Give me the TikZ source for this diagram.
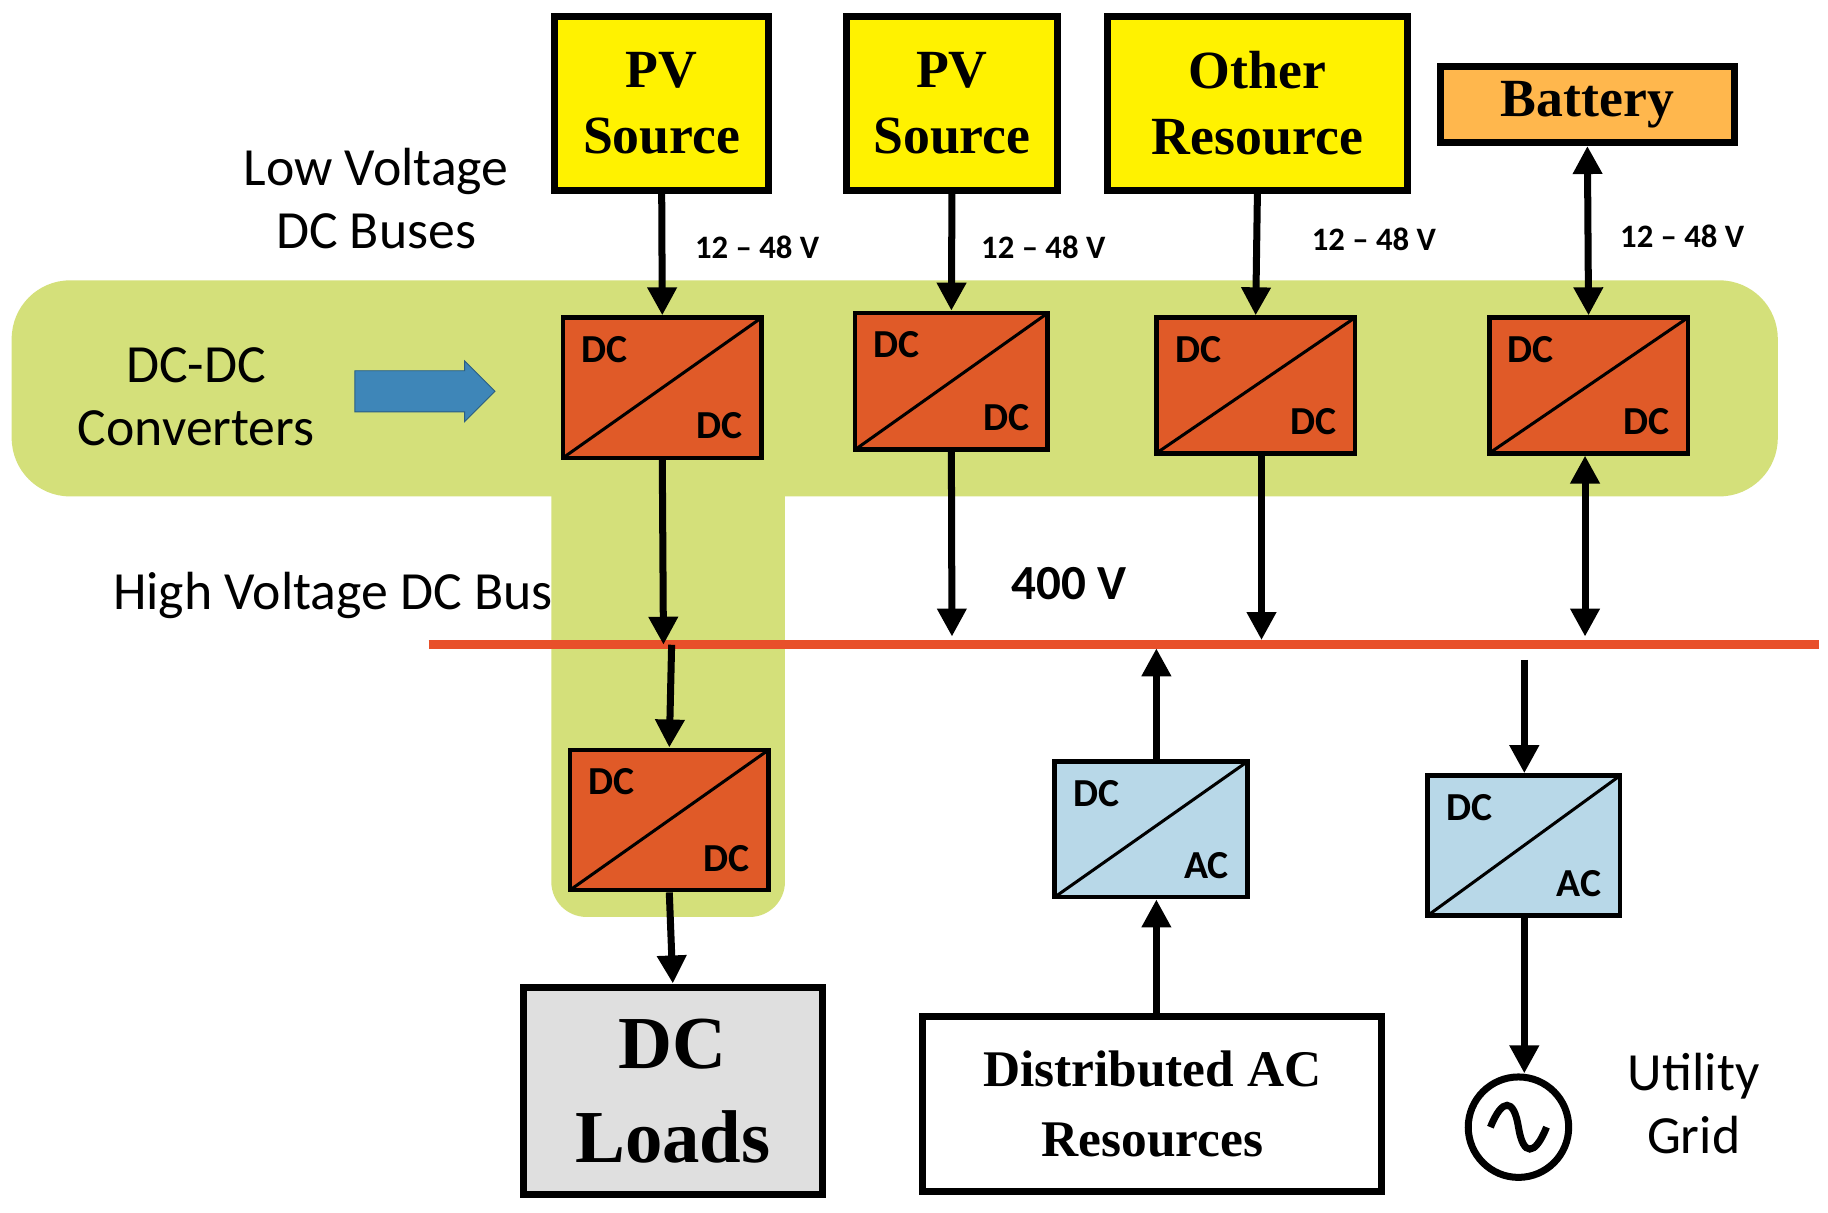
\documentclass[tikz,border=0pt]{standalone}
\usepackage{fontspec}
\setmainfont{Carlito}
\newfontfamily\serifb{Liberation Serif}
\usetikzlibrary{arrows.meta,shapes.arrows}
\definecolor{ygreen}{HTML}{D4E07A}
\definecolor{conv}{HTML}{E05A28}
\definecolor{inv}{HTML}{B8D8E8}
\definecolor{bat}{HTML}{FFB74D}
\definecolor{busred}{HTML}{E8502A}
\definecolor{barrow}{HTML}{3E86B8}
\begin{document}
\begin{tikzpicture}[x=0.5pt,y=-0.5pt,
  sz/.style 2 args={minimum width=#1*0.5pt,minimum height=#2*0.5pt},
  src/.style={draw=black,line width=3pt,fill=yellow,font=\serifb\bfseries\fontsize{23}{26}\selectfont,align=center,inner sep=0},
  cv/.style n args={3}{draw=black,line width=2pt,fill=#1,inner sep=0,
    path picture={\draw[line width=1.3pt] (path picture bounding box.south west)--(path picture bounding box.north east);
      \node[anchor=north west,minimum width=0pt,minimum height=0pt,font=\bfseries\fontsize{17}{20}\selectfont,inner sep=7pt] at (path picture bounding box.north west){#2};
      \node[anchor=south east,minimum width=0pt,minimum height=0pt,font=\bfseries\fontsize{17}{20}\selectfont,inner sep=7pt] at (path picture bounding box.south east){#3};}},
  ar/.style={line width=3pt,-{Triangle[length=12pt,width=12pt]}},
  dar/.style={line width=3pt,{Triangle[length=12pt,width=12pt]}-{Triangle[length=12pt,width=12pt]}},
  lbl/.style={font=\fontsize{23}{27}\selectfont,align=center},
  vl/.style={font=\bfseries\fontsize{14}{16}\selectfont,anchor=west}]
\useasboundingbox (0,0) rectangle (1565,1038);
\fill[white] (0,0) rectangle (1565,1038);
% green band
\fill[ygreen,rounded corners=25pt] (10,240) rectangle (1522,425);
\fill[ygreen,rounded corners=15pt] (472,380) rectangle (672,785);
% sources
\node[src,sz={183}{149}] (pv1) at (566.5,88.5) {PV\\[2pt]Source};
\node[src,sz={180}{149}] (pv2) at (815,88.5) {PV\\[2pt]Source};
\node[src,sz={257}{149}] (oth) at (1076.5,88.5) {Other\\[2pt]Resource};
\node[src,fill=bat,sz={252}{65}] (bat) at (1359,89.5) {Battery};
% converters
\node[cv={conv}{DC}{DC},sz={170}{120}] (c1) at (567,332) {};
\node[cv={conv}{DC}{DC},sz={165}{117}] (c2) at (814.5,326.5) {};
\node[cv={conv}{DC}{DC},sz={170}{116}] (c3) at (1075,330) {};
\node[cv={conv}{DC}{DC},sz={170}{116}] (c4) at (1360,330) {};
\node[cv={conv}{DC}{DC},sz={170}{120}] (c5) at (573,702) {};
\node[cv={inv}{DC}{AC},sz={165}{116}] (i1) at (985.5,710) {};
\node[cv={inv}{DC}{AC},sz={165}{120}] (i2) at (1304.5,724) {};
% loads
\node[draw=black,line width=3pt,fill=gray!25,sz={256}{178},inner sep=0,font=\serifb\bfseries\fontsize{32}{40}\selectfont,align=center] (load) at (576,934) {DC\\Loads};
\node[draw=black,line width=3pt,fill=white,sz={393}{150},inner sep=0,font=\serifb\bfseries\fontsize{22}{30}\selectfont,align=center] (dac) at (986.5,945) {Distributed AC\\Resources};
\node[draw=black,line width=3pt,circle,minimum size=43pt,inner sep=0] (grid) at (1300,965) {};
\draw[line width=3pt] (1276,965) .. controls (1286,940) and (1296,940) .. (1300,965) .. controls (1304,990) and (1314,990) .. (1324,965);
% bus
\draw[busred,line width=4pt] (367,552) -- (1557,552);
\coordinate (b1) at (568,552); \coordinate (b1d) at (575,552);
\coordinate (b2) at (815,545); \coordinate (b3) at (1080,548);
\coordinate (b4) at (1357,545); \coordinate (b5) at (990,555);
\coordinate (b6) at (1305,565);
% arrows
\draw[ar] (pv1.south) -- (c1.north);
\draw[ar] (c1.south) -- (b1);
\draw[ar] (b1d) -- (c5.north);
\draw[ar] (c5.south) -- (load.north);
\draw[ar] (pv2.south) -- (c2.north);
\draw[ar] (c2.south) -- (b2);
\draw[ar] (oth.south) -- (c3.north);
\draw[ar] (c3.south -| b3) -- (b3);
\draw[dar] (bat.south) -- (c4.north);
\draw[dar] (c4.south -| b4) -- (b4);
\draw[ar] (i1.north -| b5) -- (b5);
\draw[ar] (dac.north -| b5) -- (i1.south -| b5);
\draw[ar] (b6) -- (i2.north -| b6);
\draw[ar] (i2.south -| b6) -- (grid.north -| b6);
% labels
\node[lbl] (t1) at (322,170) {Low Voltage\\DC Buses};
\node[lbl] (t2) at (168,340) {DC-DC\\Converters};
\node[single arrow,fill=barrow,draw=barrow!70!black,minimum height=60pt,minimum width=26pt,single arrow head extend=2pt,inner sep=4pt] (ba) at (355,335) {};
\node[lbl] (t3) at (285,510) {High Voltage DC Bus};
\node[lbl,font=\bfseries\fontsize{21}{25}\selectfont] (t4) at (915,500) {400 V};
\node[vl] (v1) at (588,212) {12 -- 48 V};
\node[vl] (v2) at (833,212) {12 -- 48 V};
\node[vl] (v3) at (1116,205) {12 -- 48 V};
\node[vl] (v4) at (1380,202) {12 -- 48 V};
\node[lbl] (t5) at (1450,945) {Utility\\Grid};
\end{tikzpicture}
\end{document}
